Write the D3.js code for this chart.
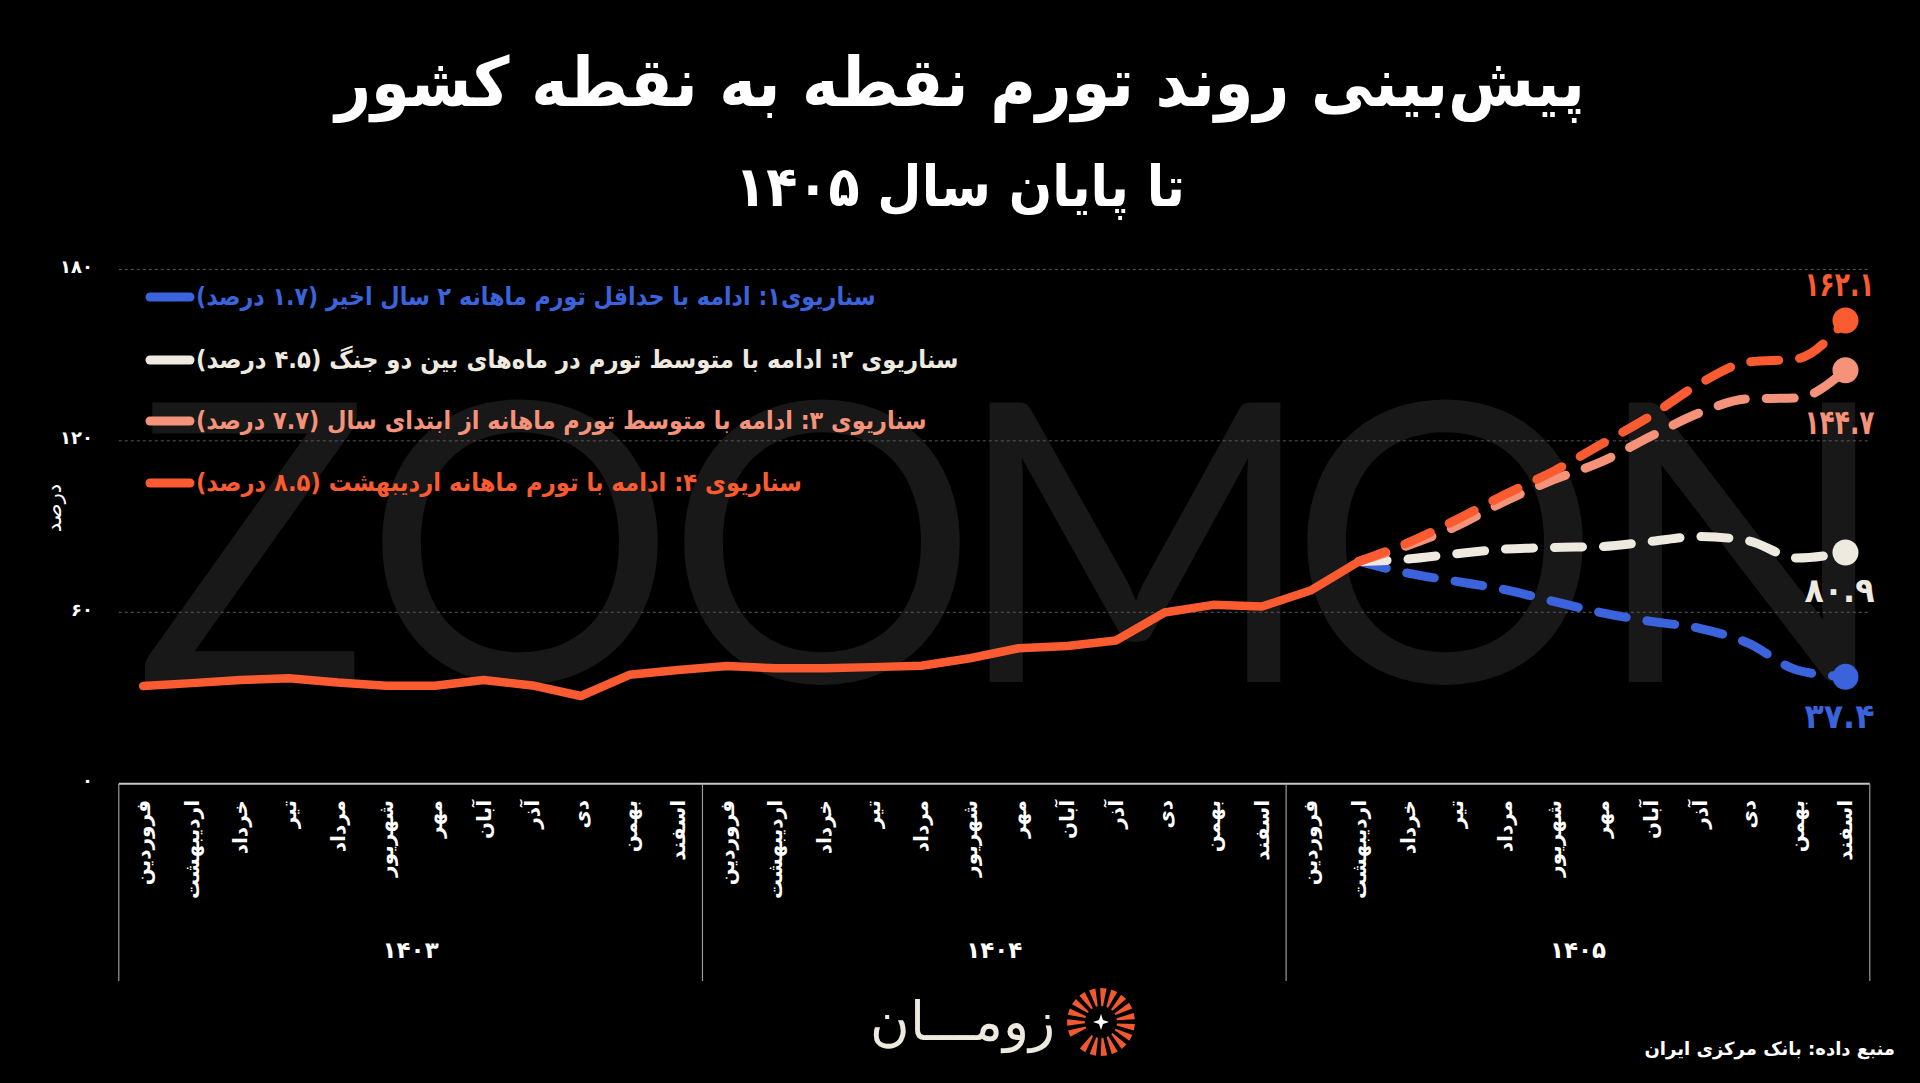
<!DOCTYPE html>
<html><head><meta charset="utf-8">
<script src="https://cdn.jsdelivr.net/npm/d3@7"></script>
<style>
html,body{margin:0;padding:0;background:#000;}
svg{display:block;background:#000;}
text{font-family:"DejaVu Sans","Noto Sans",sans-serif;}
</style></head><body>
<svg id="chart" width="1920" height="1083"></svg>
<script>
// ---------------- data ----------------
const months = ["فروردین","اردیبهشت","خرداد","تیر","مرداد","شهریور","مهر","آبان","آذر","دی","بهمن","اسفند"];
const years = ["۱۴۰۳","۱۴۰۴","۱۴۰۵"];
const yTicks = [0, 60, 120, 180];
// actual point-to-point inflation, 1403 Farvardin .. 1405 Ordibehesht
const actual = [34.2,35.2,36.3,36.9,35.4,34.3,34.3,36.3,34.4,30.7,38.1,39.8,41.2,40.4,40.4,40.8,41.3,43.9,47.4,48.2,50.1,59.9,62.6,62.0,67.6,77.8];
const scenarioStart = 25; // index of 1405 Ordibehesht
const scenario1 = [77.8,73.7,70.8,67.9,63.8,59.8,56.8,54.4,49.2,39.8,37.4];
const scenario2 = [77.8,78.6,80.5,82.1,82.7,83.0,84.8,86.5,85.0,79.0,80.9];
const scenario3 = [77.8,83.4,90.1,98.9,106.4,112.8,121.6,129.8,134.7,135.0,144.7];
const scenario4 = [77.8,84.3,92.4,101.2,109.4,119.0,128.8,140.0,147.6,148.7,162.1];
const scenarioNames = [
  "سناریوی۱: ادامه با حداقل تورم ماهانه ۲ سال اخیر (۱.۷ درصد)",
  "سناریوی ۲: ادامه با متوسط تورم در ماه‌های بین دو جنگ (۴.۵ درصد)",
  "سناریوی ۳: ادامه با متوسط تورم ماهانه از ابتدای سال (۷.۷ درصد)",
  "سناریوی ۴: ادامه با تورم ماهانه اردیبهشت (۸.۵  درصد)"
];
const colors = ["#3a63dc","#eeeae0","#f4937a","#fb5b31"];
const titleText = "پیش‌بینی روند تورم نقطه به نقطه کشور";
const subtitleText = "تا پایان سال ۱۴۰۵";
const yTitle = "درصد";
const sourceText = "منبع داده: بانک مرکزی ایران";
const brandText = "زومـــان";
const watermark = ["Z","O","O","M","O","N"];

// ---------------- setup ----------------
const svg = d3.select("#chart");
const fa = v => String(v).replace(/\d/g, d => "۰۱۲۳۴۵۶۷۸۹"[+d]);
const categories = years.flatMap(yy => months.map(m => yy + "|" + m));
const x = d3.scaleBand().domain(categories).range([118.8, 1869.8]);
const cx = i => x(categories[i]) + x.bandwidth() / 2;
const y = d3.scaleLinear().domain([0, 180]).range([783.7, 269.4]);
const plotL = x.range()[0], plotR = x.range()[1];

// watermark
const wmCenters = [252, 520, 822, 1135, 1445, 1742];
svg.append("g").selectAll("text").data(watermark).join("text")
  .attr("x", (d, i) => wmCenters[i]).attr("y", 682)
  .attr("text-anchor", "middle")
  .style("font-family", "Lato, 'Open Sans', sans-serif")
  .style("font-weight", 400)
  .style("font-size", "390px")
  .attr("fill", "#181818")
  .text(d => d);

// gridlines
svg.append("g").selectAll("line").data(yTicks.filter(t => t > 0)).join("line")
  .attr("x1", plotL).attr("x2", plotR)
  .attr("y1", d => y(d)).attr("y2", d => y(d))
  .attr("stroke", "#5a5a5a").attr("stroke-width", 1).attr("stroke-dasharray", "3,3");

// y tick labels
svg.append("g").selectAll("text").data(yTicks).join("text")
  .attr("x", 93).attr("y", d => y(d) - 3)
  .attr("text-anchor", "end").attr("dominant-baseline", "central")
  .attr("fill", "#fff").style("font-size", "18px").style("font-weight", "bold")
  .text(d => fa(d));

svg.append("text")
  .attr("transform", "translate(54,508) rotate(-90)")
  .attr("text-anchor", "middle").attr("dominant-baseline", "central")
  .attr("fill", "#fff").style("font-size", "21px")
  .text(yTitle);

// x axis box
const axG = svg.append("g");
axG.append("line").attr("x1", plotL).attr("x2", plotR).attr("y1", y(0)).attr("y2", y(0))
  .attr("stroke", "#c8c8c8").attr("stroke-width", 2);
const yearBounds = years.map((yy, k) => x(categories[k * 12])).concat([plotR]);
axG.selectAll("line.v").data(yearBounds).join("line").attr("class", "v")
  .attr("x1", d => d).attr("x2", d => d).attr("y1", y(0)).attr("y2", 981)
  .attr("stroke", "#9a9a9a").attr("stroke-width", 1.2);
axG.selectAll("text.m").data(categories).join("text").attr("class", "m")
  .attr("transform", (d, i) => `translate(${cx(i)},800) rotate(-90)`)
  .attr("text-anchor", "end").attr("dominant-baseline", "central")
  .attr("fill", "#fff").style("font-size", "20px").style("font-weight", "bold")
  .text(d => d.split("|")[1]);
axG.selectAll("text.yr").data(years).join("text").attr("class", "yr")
  .attr("x", (d, k) => (x(categories[k * 12]) + x(categories[k * 12 + 11]) + x.bandwidth()) / 2)
  .attr("y", 950).attr("text-anchor", "middle").attr("dominant-baseline", "central")
  .attr("fill", "#fff").style("font-size", "23px").style("font-weight", "bold")
  .text(d => d);

// lines
const scenarios = [scenario1, scenario2, scenario3, scenario4];
const dashLine = d3.line().x(d => cx(d.i)).y(d => y(d.v)).curve(d3.curveMonotoneX);
const scenG = svg.append("g");
scenarios.forEach((s, k) => {
  const pts = s.map((v, j) => ({i: scenarioStart + j, v}));
  scenG.append("path").datum(pts)
    .attr("d", dashLine).attr("fill", "none")
    .attr("stroke", colors[k]).attr("stroke-width", 9)
    .attr("stroke-linecap", "round").attr("stroke-dasharray", "28,21");
});
const solidLine = d3.line().x((d, i) => cx(i)).y(d => y(d));
svg.append("path").datum(actual).attr("d", solidLine).attr("fill", "none")
  .attr("stroke", colors[3]).attr("stroke-width", 8.5)
  .attr("stroke-linejoin", "round").attr("stroke-linecap", "round");

// end dots + labels
const labelOffsets = [40, 38, 52, -37];
scenarios.forEach((s, k) => {
  const last = s.length - 1, xi = cx(scenarioStart + last), yv = y(s[last]);
  svg.append("circle").attr("cx", xi).attr("cy", yv).attr("r", 13).attr("fill", colors[k]);
  const lt = svg.append("text").attr("x", xi - 6).attr("y", yv + labelOffsets[k])
    .attr("text-anchor", "middle").attr("dominant-baseline", "central")
    .attr("fill", colors[k]).style("font-size", "34px").style("font-weight", "bold")
    .text(fa(s[last].toFixed(1)));
  const w = lt.node().getComputedTextLength(), ax = xi - 6;
  lt.attr("transform", `translate(${ax},0) scale(${Math.min(1, 70 / w)},1) translate(${-ax},0)`);
});

// legend
const legG = svg.append("g");
const legY = [297, 360, 421, 483];
const legW = [680, 763, 731, 606];
scenarioNames.forEach((name, k) => {
  legG.append("line").attr("x1", 150).attr("x2", 190).attr("y1", legY[k]).attr("y2", legY[k])
    .attr("stroke", colors[k]).attr("stroke-width", 9).attr("stroke-linecap", "round");
});
legG.selectAll("text").data(scenarioNames).join("text")
  .attr("x", 196).attr("y", (d, k) => legY[k])
  .attr("direction", "rtl").attr("text-anchor", "end").attr("dominant-baseline", "central")
  .attr("fill", (d, k) => colors[k]).style("font-size", "25px").style("font-weight", "bold")
  .text(d => d)
  .each(function (d, k) {
    const w = this.getComputedTextLength();
    d3.select(this).attr("transform", `translate(196,0) scale(${legW[k] / w},1) translate(-196,0)`);
  });

// titles
function fitWidth(sel, target, ax) {
  const w = sel.node().getComputedTextLength();
  sel.attr("transform", `translate(${ax},0) scale(${target / w},1) translate(${-ax},0)`);
}
const t1 = svg.append("text").attr("x", 960).attr("y", 106).attr("direction", "rtl")
  .attr("text-anchor", "middle").attr("fill", "#fff")
  .style("font-size", "68px").style("font-weight", "bold").text(titleText);
fitWidth(t1, 1250, 960);
const t2 = svg.append("text").attr("x", 960).attr("y", 206).attr("direction", "rtl")
  .attr("text-anchor", "middle").attr("fill", "#fff")
  .style("font-size", "56px").style("font-weight", "bold").text(subtitleText);
fitWidth(t2, 450, 960);

// source
svg.append("text").attr("x", 1895).attr("y", 1055).attr("direction", "rtl")
  .attr("text-anchor", "start").attr("fill", "#fff")
  .style("font-size", "18px").style("font-weight", "bold").text(sourceText);

// brand
svg.append("text").attr("x", 1055).attr("y", 1040).attr("direction", "rtl")
  .attr("text-anchor", "start").attr("fill", "#eeeae0")
  .style("font-size", "54px").style("font-weight", 300).text(brandText);
const logo = svg.append("g").attr("transform", "translate(1101,1022)");
const rayAngles = d3.range(-200, 125, 19);
logo.selectAll("path").data(rayAngles).join("path")
  .attr("d", a => {
    const r0 = 16, r1 = 34, da = 5.5 * Math.PI / 180, t = a * Math.PI / 180;
    const p = (r, ang) => [r * Math.cos(ang), r * Math.sin(ang)];
    const pts = [p(r0, t - da * 0.6), p(r1, t - da), p(r1, t + da), p(r0, t + da * 0.6)];
    return "M" + pts.map(q => q.join(",")).join("L") + "Z";
  })
  .attr("fill", "#f2592f");
logo.append("path").attr("d", "M0,-8 L2,-2 L8,0 L2,2 L0,8 L-2,2 L-8,0 L-2,-2Z").attr("fill", "#fff");
</script>
</body></html>
